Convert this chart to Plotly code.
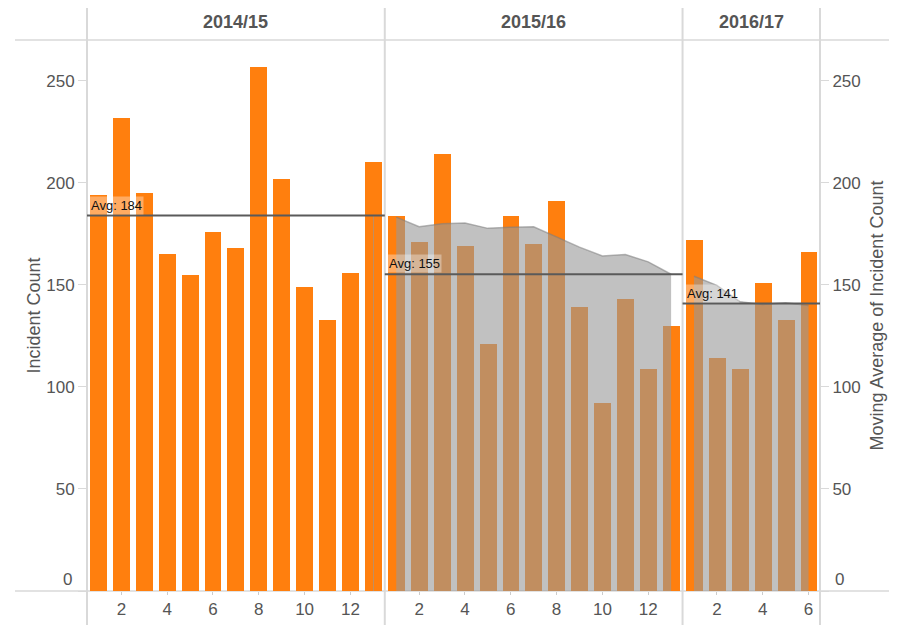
import plotly.graph_objects as go
import numpy as np

# ---------------- data ----------------
years = ["2014/15", "2015/16", "2016/17"]

periods_1415 = [1, 2, 3, 4, 5, 6, 7, 8, 9, 10, 11, 12, 13]
periods_1516 = [1, 2, 3, 4, 5, 6, 7, 8, 9, 10, 11, 12, 13]
periods_1617 = [1, 2, 3, 4, 5, 6]

counts_1415 = [194, 232, 195, 165, 155, 176, 168, 257, 202, 149, 133, 156, 210]
counts_1516 = [184, 171, 214, 169, 121, 184, 170, 191, 139, 92, 143, 109, 130]
counts_1617 = [172, 114, 109, 151, 133, 166]

# moving average of incident count (read from the grey area)
ma_1415 = [None, None, None, None, None, None, None, None, None, None, None, None, 184]
ma_1516 = [183.2, 178.5, 180.0, 180.3, 177.7, 178.3, 178.5, 173.4, 168.5, 164.2, 164.9, 161.3, 155.2]
ma_1617 = [154.2, 149.8, 141.8, 140.4, 141.3, 139.9]

y_ticks = [0, 50, 100, 150, 200, 250]
y_ticktext = ["", "50", "100", "150", "200", "250"]
zero_label = "0"
x_ticks = [2, 4, 6, 8, 10, 12]

# ---------------- styling ----------------
FONT = "Liberation Sans, Arial, sans-serif"
TXT = "#555555"
RULE = "#d9d9d9"
ORANGE = "#FF7F0E"
AREA = "rgba(152,152,152,0.6)"

OFF = 8  # page body margin
W, H = 897 - OFF, 625 - OFF
ML, MT = 87 - OFF, 40 - OFF
PW, PH = 733, 551
MR = W - ML - PW
MB = H - MT - PH

panels = [
    (periods_1415, counts_1415, ma_1415),
    (periods_1516, counts_1516, ma_1516),
    (periods_1617, counts_1617, ma_1617),
]
n_slots = [len(p[0]) for p in panels]
total = sum(n_slots)
bounds = np.cumsum([0] + n_slots) / total

fig = go.Figure()
axnames = ["x", "x2", "x3"]

for i, (per, cnt, ma) in enumerate(panels):
    fig.add_trace(go.Bar(x=per, y=cnt, xaxis=axnames[i], yaxis="y", width=0.74,
                         marker=dict(color=ORANGE, line=dict(width=0)),
                         showlegend=False, name="Incident Count"))
for i, (per, cnt, ma) in enumerate(panels):
    xa = axnames[i]
    valid = [v for v in ma if v is not None]
    if len(valid) == 1:
        fig.add_trace(go.Bar(x=per, y=ma, xaxis=xa, yaxis="y", width=0.05,
                             marker=dict(color=AREA, line=dict(width=0)),
                             showlegend=False, name="Moving Average"))
    else:
        fig.add_trace(go.Scatter(x=per, y=ma, xaxis=xa, yaxis="y", mode="lines",
                                 fill="tozeroy", fillcolor=AREA,
                                 line=dict(color="rgba(125,125,125,0.55)", width=1.5),
                                 showlegend=False, name="Moving Average"))
# invisible trace so the right-hand axis is drawn
fig.add_trace(go.Scatter(x=periods_1617, y=ma_1617, xaxis="x3", yaxis="y2", mode="lines",
                         line=dict(width=0, color="rgba(0,0,0,0)"), hoverinfo="skip",
                         showlegend=False))

shapes = []
annotations = []
ytop = (MT + PH) / PH
ybot = -(MB) / PH
for b in bounds:
    shapes.append(dict(type="line", xref="paper", yref="paper", x0=b, x1=b,
                       y0=ybot, y1=ytop, line=dict(color=RULE, width=2), layer="below"))
xl = (15 - OFF - ML) / PW
xr = (890 - OFF - ML) / PW
for yy in (0, 1):
    shapes.append(dict(type="line", xref="paper", yref="paper", x0=xl, x1=xr,
                       y0=yy, y1=yy, line=dict(color=RULE, width=1.5), layer="below"))

for i, (per, cnt, ma) in enumerate(panels):
    avg = float(np.mean(cnt))
    dom = axnames[i] + " domain"
    shapes.append(dict(type="line", xref=dom, yref="y", x0=0, x1=1, y0=avg, y1=avg,
                       line=dict(color="#5a5a5a", width=2), layer="above"))
    annotations.append(dict(xref=dom, yref="y", x=0, y=avg, xanchor="left", yanchor="bottom",
                            text=f"Avg: {avg:.0f}", showarrow=False, xshift=2, yshift=1,
                            font=dict(family=FONT, size=13, color="#111111"),
                            bgcolor="rgba(255,255,255,0.35)", borderpad=1))
    annotations.append(dict(xref=dom, yref="paper", x=0.5, y=(PH + MT - (22 - OFF)) / PH,
                            xanchor="center", yanchor="middle", text=f"<b>{years[i]}</b>",
                            showarrow=False, font=dict(family=FONT, size=18, color=TXT)))

# zero labels sit just above the baseline, as in the original
for xp, anc, sh in ((0, "right", -13), (1, "left", 13)):
    annotations.append(dict(xref="paper", yref="y", x=xp, y=0, xanchor=anc, yanchor="middle",
                            xshift=sh, yshift=12, text=zero_label, showarrow=False,
                            font=dict(family=FONT, size=17, color=TXT)))

layout_axes = {}
for i, (per, cnt, ma) in enumerate(panels):
    key = "xaxis" if i == 0 else f"xaxis{i+1}"
    layout_axes[key] = dict(domain=[bounds[i], bounds[i + 1]], range=[0.5, len(per) + 0.5],
                            anchor="y", tickvals=x_ticks, ticks="outside", ticklen=3,
                            tickcolor="#cccccc", showgrid=False, zeroline=False, showline=False,
                            automargin=False,
                            tickfont=dict(family=FONT, size=17, color=TXT), fixedrange=True)

fig.update_layout(
    width=W, height=H,
    margin=dict(l=ML, r=MR, t=MT, b=MB, autoexpand=False),
    paper_bgcolor="white", plot_bgcolor="white",
    barmode="overlay", bargap=0,
    showlegend=False,
    font=dict(family=FONT, color=TXT),
    shapes=shapes, annotations=annotations,
    yaxis=dict(range=[0, 270], tickvals=y_ticks, ticktext=y_ticktext, ticks="outside", ticklen=8,
               tickcolor=RULE, showgrid=False, zeroline=False, showline=False, automargin=False,
               tickfont=dict(family=FONT, size=17, color=TXT),
               title=dict(text="Incident Count", font=dict(family=FONT, size=18, color=TXT), standoff=0),
               anchor="x"),
    yaxis2=dict(range=[0, 270], tickvals=y_ticks, ticktext=y_ticktext, ticks="outside", ticklen=8,
                tickcolor=RULE, showgrid=False, zeroline=False, showline=False, automargin=False,
                tickfont=dict(family=FONT, size=17, color=TXT),
                title=dict(text="Moving Average of Incident Count",
                           font=dict(family=FONT, size=18, color=TXT), standoff=10),
                overlaying="y", side="right", anchor="x3"),
    **layout_axes,
)

fig.write_html("out.html")
